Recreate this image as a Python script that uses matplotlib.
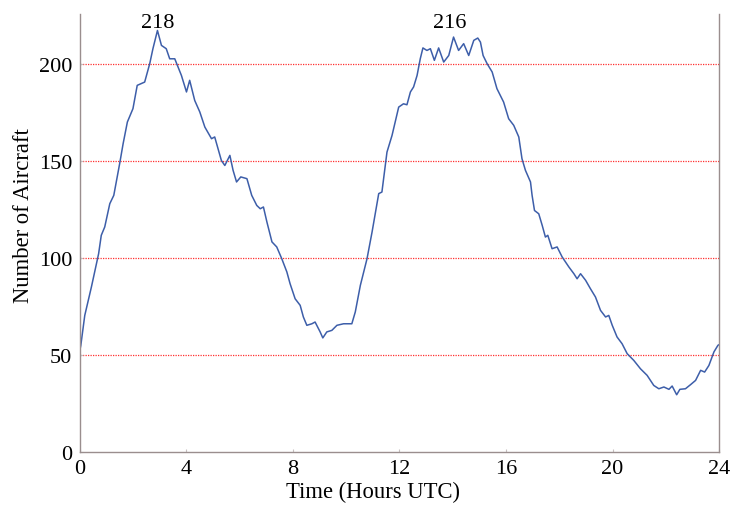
import matplotlib
matplotlib.use("Agg")
import matplotlib.pyplot as plt

plt.rcParams['font.family'] = ['Liberation Serif', 'DejaVu Serif']

hours = [0.0, 0.03, 0.18, 0.43, 0.70, 0.80, 0.93, 1.12, 1.27, 1.49, 1.62, 1.78, 1.99, 2.15, 2.43,
         2.62, 2.74, 2.91, 3.06, 3.24, 3.37, 3.56, 3.81, 4.00, 4.12, 4.31, 4.50, 4.69, 4.94,
         5.06, 5.31, 5.44, 5.63, 5.75, 5.88, 6.04, 6.27, 6.45, 6.64, 6.77, 6.89, 7.02, 7.21,
         7.39, 7.58, 7.77, 7.89, 8.08, 8.27, 8.39, 8.52, 8.71, 8.83, 9.02, 9.12, 9.27, 9.46,
         9.65, 9.90, 10.21, 10.34, 10.53, 10.78, 10.97, 11.22, 11.34, 11.53, 11.72, 11.84,
         11.97, 12.15, 12.28, 12.41, 12.53, 12.66, 12.78, 12.88, 13.03, 13.16, 13.31, 13.47,
         13.66, 13.85, 14.03, 14.22, 14.41, 14.60, 14.79, 14.94, 15.04, 15.14, 15.29, 15.48,
         15.66, 15.91, 16.10, 16.29, 16.48, 16.60, 16.73, 16.92, 16.98, 17.07, 17.23, 17.36,
         17.48, 17.57, 17.73, 17.92, 18.11, 18.36, 18.55, 18.67, 18.80, 18.99, 19.17, 19.36,
         19.55, 19.74, 19.86, 19.99, 20.17, 20.36, 20.55, 20.80, 21.05, 21.30, 21.55, 21.74,
         21.93, 22.12, 22.24, 22.41, 22.53, 22.74, 22.93, 23.12, 23.31, 23.46, 23.62, 23.81,
         23.96, 24.0]
aircraft = [53, 55, 70.6, 85.3, 102.4, 111.9, 116.2, 128.2, 132.5, 148.8, 159.1, 170.3, 177.2,
            189.2, 190.9, 200.4, 208.1, 217.5, 209.8, 208.1, 202.9, 202.9, 194.3, 185.8, 191.8,
            181.4, 175.5, 167.7, 161.7, 162.6, 150.5, 147.9, 153.1, 145.4, 139.4, 142.0, 141.1,
            132.5, 127.3, 125.6, 126.5, 118.8, 108.5, 105.9, 99.8, 93.0, 87.0, 79.2, 75.8, 69.8,
            65.5, 66.3, 67.2, 62.1, 59.0, 62.1, 62.9, 65.5, 66.3, 66.3, 72.4, 86.1, 99.8, 113.6,
            133.4, 134.2, 154.8, 163.4, 170.3, 178.0, 179.7, 179.2, 185.8, 188.4, 194.3, 202.9,
            208.5, 207.2, 208.1, 202.1, 208.5, 201.2, 204.6, 214.1, 207.2, 210.7, 204.6, 212.4,
            213.6, 211.5, 204.6, 200.4, 196.1, 187.5, 180.6, 172.0, 168.6, 162.6, 151.4, 145.4,
            139.4, 132.5, 124.7, 123.0, 117.0, 111.0, 111.9, 105.0, 105.9, 100.7, 95.6, 92.1,
            89.5, 92.1, 88.7, 84.4, 80.1, 73.2, 69.8, 70.6, 65.5, 59.5, 56.0, 50.9, 47.4, 43.1,
            39.7, 34.5, 32.8, 33.7, 32.5, 34.2, 29.7, 32.5, 32.8, 34.9, 37.1, 42.3, 41.4, 44.8,
            51.8, 55.2, 55.5]

x_ticks = [0, 4, 8, 12, 16, 20, 24]
y_ticks = [0, 50, 100, 150, 200]
grid_levels = [50, 100, 150, 200]
peak_labels = ["218", "216"]
peak_hours = [2.92, 13.9]
peak_values = [218, 216]

fig = plt.figure(figsize=(7.31, 5.06), dpi=100)
ax = fig.add_axes([0.1094, 0.1040, 0.8742, 0.8664])

for g in grid_levels:
    ax.axhline(g, color='#ff3030', linestyle=(0, (1, 1)), linewidth=0.9, zorder=1)

ax.plot(hours, aircraft, color='#3d5ea9', linewidth=1.1, zorder=2)

for lab, h, v in zip(peak_labels, peak_hours, peak_values):
    ax.text(h, 219.5, lab, ha='center', va='baseline', fontsize=16)

ax.set_xlim(0, 24)
ax.set_ylim(0, 226)
ax.set_xticks(x_ticks)
ax.set_yticks(y_ticks)
ax.tick_params(axis='both', direction='in', length=2, color='#c8c0c0', labelsize=16)
ax.tick_params(axis='x', pad=5)
ax.tick_params(axis='y', pad=5.5)

spine_col = '#9a8e8e'
for s in ['left', 'bottom', 'right']:
    ax.spines[s].set_color(spine_col)
    ax.spines[s].set_linewidth(1.0)
ax.spines['top'].set_visible(False)

ax.set_xlabel('Time (Hours UTC)', fontsize=16.3)
ax.set_ylabel('Number of Aircraft', fontsize=16.3)
ax.xaxis.set_label_coords(0.458, -0.064)
ax.yaxis.set_label_coords(-0.072, 0.543)

fig.savefig('out.png', dpi=100)
